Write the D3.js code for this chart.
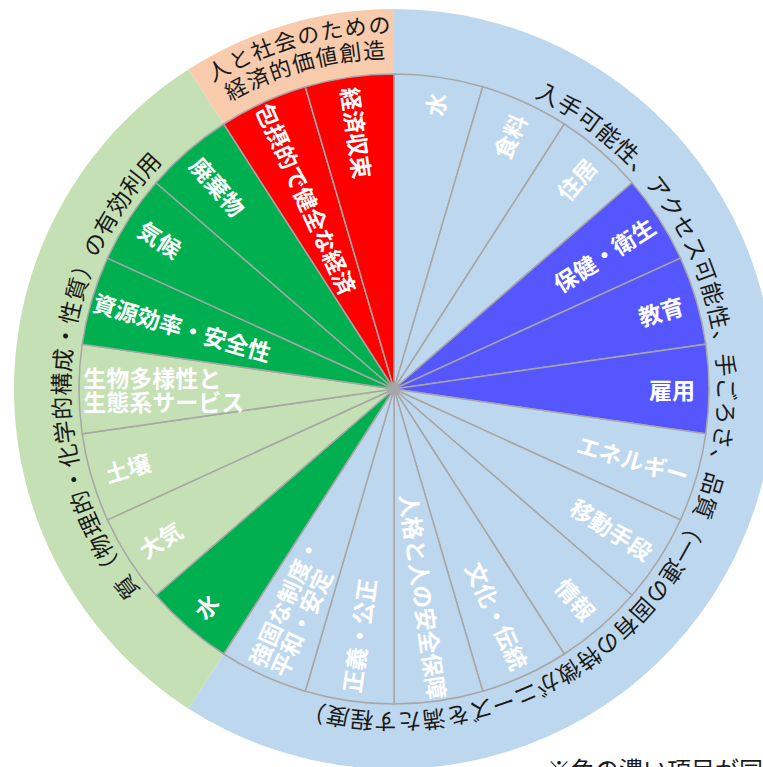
<!DOCTYPE html>
<html>
<head>
<meta charset="utf-8">
<script src="https://cdn.jsdelivr.net/npm/d3@7"></script>
<style>
body { margin: 0; background: #fff; overflow: hidden; }
text { font-family: "Noto Sans CJK JP", "Noto Sans", sans-serif; }
</style>
</head>
<body>
<svg id="chart" width="763" height="767"></svg>
<script>
// impact areas, clockwise from 12 o'clock
const categories = ["水", "食料", "住居", "保健・衛生", "教育", "雇用", "エネルギー", "移動手段", "情報",
  "文化・伝統", "人格と人の安全保障", "正義・公正", "強固な制度・\n平和・安定", "水", "大気", "土壌",
  "生物多様性と\n生態系サービス", "資源効率・安全性", "気候", "廃棄物", "包摂的で健全な経済", "経済収束"];
// every area gets the same share of the wheel
const values = [1, 1, 1, 1, 1, 1, 1, 1, 1, 1, 1, 1, 1, 1, 1, 1, 1, 1, 1, 1, 1, 1];
// 0 = social, 1 = environment, 2 = economy
const pillarOf = [0, 0, 0, 0, 0, 0, 0, 0, 0, 0, 0, 0, 0, 1, 1, 1, 1, 1, 1, 1, 2, 2];
// 1 = dark coloured item
const darkItem = [0, 0, 0, 1, 1, 1, 0, 0, 0, 0, 0, 0, 0, 1, 0, 0, 0, 1, 1, 1, 1, 1];
const pillarTexts = [
  "入手可能性、アクセス可能性、手ごろさ、品質（一連の固有の特徴がニーズを満たす程度）",
  "質（物理的・化学的構成・性質）の有効利用",
  "人と社会のための\n経済的価値創造"
];
const note = "※色の濃い項目が同";

const lightColors = ["#BDD7EE", "#C5E0B4", "#F8CBAD"];
const darkColors = ["#5656FF", "#00B050", "#FF0000"];

const cx = 394, cy = 389, rIn = 315, rOut = 380;
const svg = d3.select("#chart");
const g = svg.append("g").attr("transform", `translate(${cx},${cy})`);
const defs = svg.append("defs");

const slices = d3.pie().sort(null).value(d => d.v)(
  categories.map((name, i) => ({ name, v: values[i], p: pillarOf[i], dark: darkItem[i] })));

// outer ring, one band per pillar
const pillars = d3.range(pillarTexts.length).map(p => {
  const s = slices.filter(d => d.data.p === p);
  return { p, startAngle: d3.min(s, d => d.startAngle), endAngle: d3.max(s, d => d.endAngle) };
});
const ringArc = d3.arc().innerRadius(rIn).outerRadius(rOut);
g.selectAll("path.ring").data(pillars).enter().append("path")
  .attr("class", "ring")
  .attr("d", ringArc)
  .attr("fill", d => lightColors[d.p]);

// inner wheel
const arc = d3.arc().innerRadius(0).outerRadius(rIn);
g.selectAll("path.slice").data(slices).enter().append("path")
  .attr("class", "slice")
  .attr("d", arc)
  .attr("fill", d => d.data.dark ? darkColors[d.data.p] : lightColors[d.data.p])
  .attr("stroke", "#A6A6A6")
  .attr("stroke-width", 1.5);

// radial labels
const deg = 180 / Math.PI;
slices.forEach(d => {
  const a = (d.startAngle + d.endAngle) / 2;
  const ad = a * deg;
  const right = ad < 180;
  const lines = d.data.name.split("\n");
  const t = g.append("text")
    .attr("fill", "#fff")
    .attr("font-size", 23)
    .attr("font-weight", "bold")
    .attr("dominant-baseline", "central")
    .attr("text-anchor", right ? "end" : "start");
  const spans = lines.map((ln, i) => t.append("tspan")
    .attr("x", 0)
    .attr("y", (i - (lines.length - 1) / 2) * 24)
    .text(ln));
  const len = d3.max(spans, s => s.node().getComputedTextLength());
  const r = Math.min(313, 297 + 0.085 * len);
  const x = r * Math.sin(a), y = -r * Math.cos(a);
  t.attr("transform", `translate(${x},${y}) rotate(${right ? ad - 90 : ad - 270})`);
});

// curved text along the outer ring
let pathId = 0;
function arcText(str, r, midDeg, size) {
  const id = "tp" + (pathId++);
  const n = Array.from(str).length;
  const charArc = 24.2;
  const span = n * charArc / r;
  const a0 = midDeg / deg - span / 2, a1 = midDeg / deg + span / 2;
  defs.append("path").attr("id", id)
    .attr("d", `M${cx + r * Math.sin(a0)},${cy - r * Math.cos(a0)} A${r},${r} 0 ${span > Math.PI ? 1 : 0} 1 ${cx + r * Math.sin(a1)},${cy - r * Math.cos(a1)}`);
  const t = svg.append("text")
    .attr("font-size", size)
    .attr("fill", "#1a1a1a")
    .attr("dominant-baseline", "central");
  t.append("textPath").attr("href", "#" + id).text(str);
  const natural = t.node().getComputedTextLength();
  t.attr("letter-spacing", (span * r - natural) / n);
}

pillars.forEach(d => {
  const mid = (d.startAngle + d.endAngle) / 2 * deg;
  const lines = pillarTexts[d.p].split("\n");
  if (lines.length === 1) {
    arcText(lines[0], 334, mid + (d.p === 0 ? 4.5 : 3), 23);
  } else {
    arcText(lines[0], 366, mid + 1, 22);
    arcText(lines[1], 341, mid + 1, 22);
  }
});

svg.append("text")
  .attr("x", 547)
  .attr("y", 779)
  .attr("font-size", 24)
  .attr("fill", "#1a1a1a")
  .text(note);
</script>
</body>
</html>
